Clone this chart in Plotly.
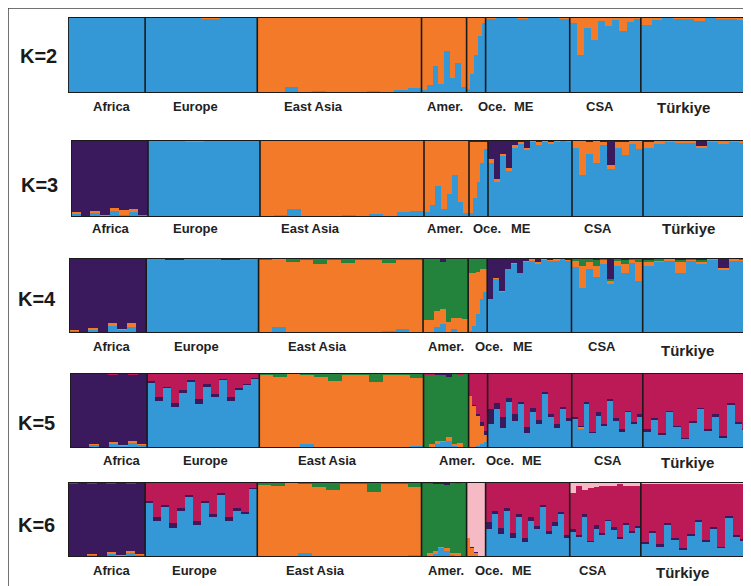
import plotly.graph_objects as go

# ---------------- data ----------------
POPS = ["Africa", "Europe", "East Asia", "Amer.", "Oce.", "ME", "CSA", "Türkiye"]
POP_SIZES = [77, 112, 164, 45, 19, 84, 71, 107]
K_LABELS = ["K=2", "K=3", "K=4", "K=5", "K=6"]

COLORS = {"blue": "#3498D6", "orange": "#F27A28", "green": "#23823C",
          "purple": "#3A1A5C", "crimson": "#BC1A56", "pink": "#F6BAC4"}

COMP2 = ["blue", "orange"]
COMP3 = ["blue", "orange", "purple"]
COMP4 = ["blue", "orange", "green", "purple"]
COMP5 = ["blue", "orange", "green", "purple", "crimson"]
COMP6 = ["blue", "orange", "green", "purple", "crimson", "pink"]

# K=2 (blue, orange)
AFR2 = [(1, 0), (1, 0), (0.99, 0.01), (1, 0)]
EUR2 = [(1, 0), (0.99, 0.01), (1, 0), (0.98, 0.02), (1, 0), (1, 0)]
EAS2 = [(0, 1), (0.01, 0.99), (0.08, 0.92), (0, 1), (0.02, 0.98), (0, 1), (0.01, 0.99), (0, 1),
        (0.03, 0.97), (0, 1), (0.04, 0.96), (0.07, 0.93)]
AME2 = [(0.04, 0.96), (0.1, 0.9), (0.35, 0.65), (0.12, 0.88), (0.55, 0.45), (0.2, 0.8), (0.4, 0.6), (0.08, 0.92)]
OCE2 = [(0.05, 0.95), (0.25, 0.75), (0.5, 0.5), (0.75, 0.25), (0.92, 0.08)]
ME2 = [(0.98, 0.02), (1, 0), (0.99, 0.01), (0.97, 0.03), (1, 0), (0.99, 0.01), (1, 0), (0.98, 0.02)]
CSA2 = [(0.92, 0.08), (0.5, 0.5), (0.85, 0.15), (0.7, 0.3), (0.95, 0.05), (0.88, 0.12), (0.96, 0.04),
        (0.82, 0.18), (0.93, 0.07), (0.97, 0.03)]
TUR2 = [(0.9, 0.1), (0.96, 0.04), (0.99, 0.01), (0.97, 0.03), (0.98, 0.02), (0.95, 0.05), (0.99, 0.01),
        (0.97, 0.03), (0.98, 0.02), (0.96, 0.04)]

# K=3 (blue, orange, purple)
AFR3 = [(0.04, 0.03, 0.93), (0, 0, 1), (0.06, 0.02, 0.92), (0.02, 0.01, 0.97), (0.08, 0.04, 0.88),
        (0.03, 0.06, 0.91), (0.07, 0.03, 0.9), (0.02, 0, 0.98)]
EUR3 = [(0.99, 0.01, 0), (1, 0, 0), (0.98, 0.02, 0), (1, 0, 0), (0.99, 0, 0.01), (1, 0, 0)]
EAS3 = [(0, 1, 0), (0.02, 0.98, 0), (0.1, 0.9, 0), (0, 1, 0), (0.01, 0.99, 0), (0, 1, 0), (0.02, 0.98, 0),
        (0, 1, 0), (0.04, 0.96, 0), (0, 1, 0), (0.06, 0.94, 0), (0.08, 0.92, 0)]
AME3 = [(0.06, 0.94, 0), (0.15, 0.85, 0), (0.4, 0.6, 0), (0.1, 0.9, 0), (0.3, 0.7, 0), (0.55, 0.45, 0),
        (0.2, 0.8, 0), (0.05, 0.95, 0)]
OCE3 = [(0.05, 0.93, 0.02), (0.25, 0.73, 0.02), (0.45, 0.53, 0.02), (0.7, 0.28, 0.02), (0.88, 0.1, 0.02)]
ME3 = [(0.7, 0.05, 0.25), (0.45, 0.05, 0.5), (0.8, 0.02, 0.18), (0.6, 0.04, 0.36), (0.9, 0.03, 0.07),
       (0.95, 0.02, 0.03), (0.88, 0.02, 0.1), (0.97, 0.03, 0), (0.94, 0.03, 0.03), (0.98, 0.02, 0),
       (0.96, 0.02, 0.02), (0.97, 0.03, 0), (0.99, 0.01, 0), (0.97, 0.03, 0)]
CSA3 = [(0.9, 0.1, 0), (0.55, 0.45, 0), (0.82, 0.15, 0.03), (0.7, 0.3, 0), (0.93, 0.05, 0.02),
        (0.62, 0.05, 0.33), (0.9, 0.08, 0.02), (0.8, 0.18, 0.02), (0.95, 0.05, 0), (0.88, 0.12, 0)]
TUR3 = [(0.9, 0.08, 0.02), (0.95, 0.04, 0.01), (0.98, 0.02, 0), (0.96, 0.03, 0.01), (0.97, 0.02, 0.01),
        (0.9, 0.02, 0.08), (0.98, 0.02, 0), (0.95, 0.04, 0.01), (0.97, 0.03, 0), (0.96, 0.04, 0)]

# K=4 (blue, orange, green, purple)
AFR4 = [(0.03, 0.01, 0, 0.96), (0, 0, 0, 1), (0.05, 0.02, 0, 0.93), (0.01, 0, 0, 0.99), (0.1, 0.03, 0, 0.87),
        (0.04, 0.02, 0, 0.94), (0.08, 0.05, 0, 0.87), (0.02, 0, 0, 0.98)]
EUR4 = [(1, 0, 0, 0), (0.97, 0, 0, 0.03), (1, 0, 0, 0), (0.99, 0, 0, 0.01), (0.98, 0, 0, 0.02), (1, 0, 0, 0)]
EAS4 = [(0, 0.97, 0.03, 0), (0.08, 0.92, 0, 0), (0, 0.95, 0.05, 0), (0, 0.98, 0.02, 0), (0.02, 0.9, 0.08, 0),
        (0, 0.97, 0.03, 0), (0, 0.94, 0.06, 0), (0.01, 0.96, 0.03, 0), (0, 0.98, 0.02, 0), (0.03, 0.9, 0.07, 0),
        (0.05, 0.92, 0.03, 0), (0.02, 0.96, 0.02, 0)]
AME4 = [(0, 0.18, 0.82, 0), (0.02, 0.16, 0.82, 0), (0.08, 0.22, 0.7, 0), (0.12, 0.2, 0.63, 0.05),
        (0, 0.15, 0.85, 0), (0.06, 0.14, 0.8, 0), (0, 0.2, 0.8, 0), (0.02, 0.17, 0.81, 0)]
OCE4 = [(0.03, 0.77, 0.2, 0), (0.1, 0.7, 0.2, 0), (0.25, 0.57, 0.18, 0), (0.45, 0.4, 0.15, 0), (0.55, 0.3, 0.15, 0)]
ME4 = [(0.45, 0, 0, 0.55), (0.72, 0.02, 0, 0.26), (0.55, 0.01, 0, 0.44), (0.85, 0, 0, 0.15), (0.92, 0.02, 0, 0.06),
       (0.8, 0, 0, 0.2), (0.95, 0.01, 0, 0.04), (0.97, 0.02, 0, 0.01), (0.93, 0.02, 0, 0.05), (0.98, 0.01, 0, 0.01),
       (0.96, 0.02, 0, 0.02), (0.97, 0.02, 0, 0.01), (0.99, 0.01, 0, 0), (0.97, 0.01, 0, 0.02)]
CSA4 = [(0.88, 0.08, 0.04, 0), (0.6, 0.3, 0.1, 0), (0.85, 0.1, 0.05, 0), (0.75, 0.15, 0.08, 0.02),
        (0.92, 0.05, 0.03, 0), (0.65, 0.05, 0.02, 0.28), (0.9, 0.06, 0.04, 0), (0.8, 0.12, 0.05, 0.03),
        (0.94, 0.04, 0.02, 0), (0.7, 0.25, 0.05, 0)]
TUR4 = [(0.9, 0.05, 0.03, 0.02), (0.95, 0.02, 0.02, 0.01), (0.97, 0.02, 0.01, 0), (0.8, 0.15, 0.03, 0.02),
        (0.97, 0.01, 0.01, 0.01), (0.93, 0.02, 0.02, 0.03), (0.98, 0.01, 0.01, 0), (0.85, 0.02, 0, 0.13),
        (0.97, 0.02, 0.01, 0), (0.96, 0.02, 0.02, 0)]

# K=5 (blue, orange, green, purple, crimson)
AFR5 = [(0.01, 0.01, 0, 0.97, 0.01), (0, 0, 0, 1, 0), (0.04, 0.02, 0, 0.93, 0.01), (0.01, 0, 0, 0.98, 0.01),
        (0.06, 0.02, 0, 0.9, 0.02), (0.03, 0.01, 0, 0.95, 0.01), (0.07, 0.03, 0, 0.88, 0.02),
        (0.04, 0.02, 0, 0.93, 0.01)]
EUR5 = [(0.87, 0, 0, 0.03, 0.1), (0.63, 0, 0, 0.05, 0.32), (0.8, 0, 0, 0.02, 0.18), (0.55, 0, 0, 0.05, 0.4),
        (0.74, 0, 0, 0.04, 0.22), (0.89, 0, 0, 0.02, 0.09), (0.59, 0, 0, 0.06, 0.35), (0.82, 0, 0, 0.03, 0.15),
        (0.68, 0, 0, 0.04, 0.28), (0.91, 0, 0, 0.01, 0.08), (0.63, 0, 0, 0.05, 0.32), (0.77, 0, 0, 0.03, 0.2),
        (0.84, 0, 0, 0.02, 0.14), (0.93, 0, 0, 0.01, 0.06)]
EAS5 = [(0, 0.97, 0.03, 0, 0), (0.02, 0.93, 0.05, 0, 0), (0, 0.99, 0.01, 0, 0), (0.06, 0.92, 0.02, 0, 0),
        (0, 0.95, 0.05, 0, 0), (0, 0.9, 0.1, 0, 0), (0.01, 0.97, 0.02, 0, 0), (0, 0.98, 0.02, 0, 0),
        (0, 0.88, 0.12, 0, 0), (0.01, 0.96, 0.03, 0, 0), (0, 0.98, 0.02, 0, 0), (0.03, 0.9, 0.07, 0, 0)]
AME5 = [(0, 0.02, 0.96, 0, 0.02), (0.02, 0.03, 0.93, 0, 0.02), (0.05, 0.05, 0.88, 0.02, 0),
        (0.08, 0.02, 0.87, 0.03, 0), (0.1, 0.05, 0.8, 0.05, 0), (0.03, 0.02, 0.95, 0, 0),
        (0.02, 0.05, 0.9, 0, 0.03), (0, 0.02, 0.97, 0, 0.01)]
OCE5 = [(0, 0.7, 0, 0, 0.3), (0.02, 0.55, 0, 0.01, 0.42), (0.03, 0.4, 0, 0.02, 0.55), (0.05, 0.25, 0, 0.05, 0.65),
        (0.08, 0.1, 0, 0.05, 0.77)]
ME5 = [(0.32, 0, 0, 0.2, 0.48), (0.52, 0, 0, 0.08, 0.4), (0.27, 0, 0, 0.15, 0.58), (0.62, 0, 0, 0.05, 0.33),
       (0.36, 0, 0, 0.1, 0.54), (0.59, 0, 0, 0.03, 0.38), (0.2, 0, 0, 0.08, 0.72), (0.48, 0, 0, 0.05, 0.47),
       (0.32, 0, 0, 0.05, 0.63), (0.72, 0, 0, 0.03, 0.25), (0.41, 0, 0, 0.04, 0.55), (0.27, 0, 0, 0.05, 0.68),
       (0.52, 0, 0, 0.03, 0.45), (0.36, 0, 0, 0.04, 0.6)]
CSA5 = [(0.39, 0, 0, 0.03, 0.58), (0.25, 0.03, 0, 0.02, 0.7), (0.59, 0, 0, 0.03, 0.38), (0.2, 0, 0, 0.02, 0.78),
        (0.43, 0, 0, 0.05, 0.52), (0.29, 0, 0, 0.03, 0.68), (0.63, 0, 0, 0.02, 0.35), (0.36, 0, 0, 0.04, 0.6),
        (0.22, 0, 0, 0.03, 0.75), (0.48, 0, 0, 0.02, 0.5), (0.33, 0, 0, 0.02, 0.65), (0.42, 0, 0, 0.03, 0.55)]
TUR5 = [(0.22, 0, 0, 0.03, 0.75), (0.38, 0, 0, 0.02, 0.6), (0.17, 0, 0, 0.03, 0.8), (0.48, 0, 0, 0.02, 0.5),
        (0.28, 0, 0, 0.02, 0.7), (0.12, 0, 0, 0.02, 0.86), (0.33, 0, 0, 0.03, 0.64), (0.52, 0, 0, 0.02, 0.46),
        (0.23, 0, 0, 0.02, 0.75), (0.42, 0, 0, 0.03, 0.55), (0.14, 0, 0, 0.02, 0.84), (0.58, 0, 0, 0.02, 0.4),
        (0.32, 0, 0, 0.03, 0.65), (0.24, 0, 0, 0.02, 0.74)]

# K=6 (blue, orange, green, purple, crimson, pink)
AFR6 = [(0.01, 0.01, 0, 0.96, 0.01, 0.01), (0, 0, 0, 1, 0, 0), (0.03, 0.01, 0, 0.94, 0.01, 0.01),
        (0, 0, 0, 0.99, 0.01, 0), (0.05, 0.02, 0, 0.91, 0.02, 0), (0.02, 0.01, 0, 0.96, 0.01, 0),
        (0.06, 0.02, 0, 0.9, 0.02, 0), (0.03, 0.01, 0, 0.95, 0.01, 0)]
EUR6 = [(0.72, 0, 0, 0.03, 0.25, 0), (0.48, 0, 0, 0.05, 0.47, 0), (0.67, 0, 0, 0.03, 0.3, 0),
        (0.39, 0, 0, 0.06, 0.55, 0), (0.62, 0, 0, 0.03, 0.35, 0), (0.81, 0, 0, 0.02, 0.17, 0),
        (0.43, 0, 0, 0.05, 0.52, 0), (0.72, 0, 0, 0.03, 0.25, 0), (0.53, 0, 0, 0.04, 0.43, 0),
        (0.83, 0, 0, 0.02, 0.15, 0), (0.48, 0, 0, 0.05, 0.47, 0), (0.62, 0, 0, 0.03, 0.35, 0),
        (0.57, 0, 0, 0.03, 0.4, 0), (0.91, 0, 0, 0.01, 0.08, 0)]
EAS6 = [(0, 0.96, 0.04, 0, 0, 0), (0.02, 0.93, 0.05, 0, 0, 0), (0, 0.99, 0.01, 0, 0, 0), (0.06, 0.92, 0.02, 0, 0, 0),
        (0, 0.94, 0.06, 0, 0, 0), (0, 0.9, 0.1, 0, 0, 0), (0.01, 0.97, 0.02, 0, 0, 0), (0, 0.98, 0.02, 0, 0, 0),
        (0, 0.87, 0.13, 0, 0, 0), (0.01, 0.96, 0.03, 0, 0, 0), (0, 0.98, 0.02, 0, 0, 0), (0.03, 0.9, 0.07, 0, 0, 0)]
AME6 = [(0, 0.02, 0.96, 0, 0.02, 0), (0.02, 0.03, 0.93, 0, 0.02, 0), (0.04, 0.04, 0.9, 0.02, 0, 0),
        (0.12, 0.02, 0.84, 0.02, 0, 0), (0.08, 0.04, 0.84, 0.04, 0, 0), (0.03, 0.02, 0.95, 0, 0, 0),
        (0.02, 0.04, 0.91, 0, 0.03, 0), (0, 0.02, 0.97, 0, 0.01, 0)]
OCE6 = [(0, 0.25, 0, 0, 0, 0.75), (0.01, 0.12, 0, 0.01, 0, 0.86), (0.01, 0.05, 0, 0.01, 0, 0.93),
        (0, 0.02, 0, 0, 0, 0.98), (0.01, 0.01, 0, 0, 0, 0.98)]
ME6 = [(0.37, 0, 0, 0.1, 0.53, 0), (0.57, 0, 0, 0.05, 0.38, 0), (0.31, 0, 0, 0.08, 0.61, 0),
       (0.62, 0, 0, 0.03, 0.35, 0), (0.26, 0, 0, 0.06, 0.68, 0), (0.54, 0, 0, 0.03, 0.43, 0),
       (0.2, 0, 0, 0.05, 0.75, 0), (0.48, 0, 0, 0.05, 0.47, 0), (0.37, 0, 0, 0.04, 0.59, 0),
       (0.67, 0, 0, 0.03, 0.3, 0), (0.31, 0, 0, 0.04, 0.65, 0), (0.42, 0, 0, 0.05, 0.53, 0),
       (0.57, 0, 0, 0.03, 0.4, 0), (0.26, 0, 0, 0.04, 0.7, 0)]
CSA6 = [(0.34, 0, 0, 0.03, 0.48, 0.15), (0.27, 0, 0, 0.02, 0.66, 0.05), (0.54, 0, 0, 0.04, 0.32, 0.1),
        (0.2, 0, 0, 0.02, 0.7, 0.08), (0.38, 0, 0, 0.05, 0.5, 0.07), (0.29, 0, 0, 0.03, 0.63, 0.05),
        (0.48, 0, 0, 0.02, 0.45, 0.05), (0.36, 0, 0, 0.04, 0.55, 0.05), (0.24, 0, 0, 0.03, 0.7, 0.03),
        (0.43, 0, 0, 0.02, 0.5, 0.05), (0.33, 0, 0, 0.02, 0.6, 0.05), (0.39, 0, 0, 0.03, 0.53, 0.05)]
TUR6 = [(0.17, 0, 0, 0.03, 0.78, 0.02), (0.33, 0, 0, 0.02, 0.63, 0.02), (0.14, 0, 0, 0.03, 0.81, 0.02),
        (0.43, 0, 0, 0.02, 0.53, 0.02), (0.23, 0, 0, 0.02, 0.73, 0.02), (0.1, 0, 0, 0.02, 0.86, 0.02),
        (0.28, 0, 0, 0.03, 0.67, 0.02), (0.47, 0, 0, 0.02, 0.49, 0.02), (0.21, 0, 0, 0.02, 0.75, 0.02),
        (0.37, 0, 0, 0.03, 0.58, 0.02), (0.12, 0, 0, 0.02, 0.84, 0.02), (0.53, 0, 0, 0.02, 0.43, 0.02),
        (0.27, 0, 0, 0.03, 0.68, 0.02), (0.22, 0, 0, 0.02, 0.74, 0.02)]

ROWS = [
    (COMP2, [AFR2, EUR2, EAS2, AME2, OCE2, ME2, CSA2, TUR2]),
    (COMP3, [AFR3, EUR3, EAS3, AME3, OCE3, ME3, CSA3, TUR3]),
    (COMP4, [AFR4, EUR4, EAS4, AME4, OCE4, ME4, CSA4, TUR4]),
    (COMP5, [AFR5, EUR5, EAS5, AME5, OCE5, ME5, CSA5, TUR5]),
    (COMP6, [AFR6, EUR6, EAS6, AME6, OCE6, ME6, CSA6, TUR6]),
]

# ---------------- layout (screen pixels; page body has an 8px margin) ----------------
W, H = 751, 586
OFF = 8
PANELS = [(68, 748, 17, 93), (71, 750, 140, 217), (69, 750, 258, 333), (70, 750, 373, 448), (68, 748, 482, 557)]
K_POS = [(38, 56), (39, 185), (37, 299), (37, 423), (37, 525)]
LABEL_Y = [107, 229, 346, 460, 570]
TUR_Y = [108, 229, 350, 462, 572]
LABEL_X = [
    [112, 195, 313, 445, 492, 524, 600, 683],
    [111, 195, 310, 445, 487, 521, 598, 688],
    [112, 196, 317, 446, 489, 523, 602, 687],
    [122, 205, 327, 457, 500, 532, 608, 687],
    [112, 194, 315, 446, 489, 522, 593, 682],
]

def px(x):
    return (x - OFF) / W

def py(y):
    return 1 - (y - OFF) / H

fig = go.Figure()
total = sum(POP_SIZES)
shapes = []
annotations = []
FONT = "Liberation Sans, Arial, sans-serif"

for r, (comps, pops) in enumerate(ROWS):
    sfx = "" if r == 0 else str(r + 1)
    xs, ws, vals = [], [], [[] for _ in comps]
    start = 0
    bounds = []
    for size, cols in zip(POP_SIZES, pops):
        w = size / len(cols)
        for j, col in enumerate(cols):
            xs.append(start + (j + 0.5) * w)
            ws.append(w * 1.02)
            for c in range(len(comps)):
                vals[c].append(col[c])
        start += size
        bounds.append(start)
    for c, name in enumerate(comps):
        fig.add_trace(go.Bar(x=xs, y=vals[c], width=ws, marker=dict(color=COLORS[name], line=dict(width=0)),
                             xaxis="x" + sfx, yaxis="y" + sfx, showlegend=False, hoverinfo="skip"))
    x0, x1, yt, yb = PANELS[r]
    fig.layout["xaxis" + sfx] = dict(domain=[px(x0), px(x1)], range=[0, total], visible=False,
                                     anchor="y" + sfx, fixedrange=True)
    fig.layout["yaxis" + sfx] = dict(domain=[py(yb), py(yt)], range=[0, 1], visible=False,
                                     anchor="x" + sfx, fixedrange=True)
    for b in bounds[:-1]:
        shapes.append(dict(type="line", xref="x" + sfx, yref="y" + sfx, x0=b, x1=b, y0=0, y1=1,
                           line=dict(color="#1a1a1a", width=1.6)))
    shapes.append(dict(type="rect", xref="x" + sfx, yref="y" + sfx, x0=0, x1=total, y0=0, y1=1,
                       line=dict(color="#1a1a1a", width=1.8)))
    kx, ky = K_POS[r]
    annotations.append(dict(text="<b>" + K_LABELS[r] + "</b>", x=px(kx), y=py(ky), xref="paper", yref="paper",
                            showarrow=False, xanchor="center", yanchor="middle",
                            font=dict(family=FONT, size=20, color="#1a1a1a")))
    for i, name in enumerate(POPS):
        is_tur = name == "Türkiye"
        annotations.append(dict(text="<b>" + name + "</b>", x=px(LABEL_X[r][i]),
                                y=py(TUR_Y[r] if is_tur else LABEL_Y[r]), xref="paper", yref="paper",
                                showarrow=False, xanchor="center", yanchor="middle",
                                font=dict(family=FONT, size=15 if is_tur else 13, color="#222222")))

# outer frame (figure edge)
shapes.append(dict(type="rect", xref="paper", yref="paper", x0=0, x1=1, y0=0, y1=1,
                   line=dict(color="#444444", width=1.5)))

fig.update_layout(width=W, height=H, margin=dict(l=0, r=0, t=0, b=0), barmode="stack", bargap=0,
                  paper_bgcolor="white", plot_bgcolor="white", shapes=shapes, annotations=annotations)

fig.write_html("out.html")
